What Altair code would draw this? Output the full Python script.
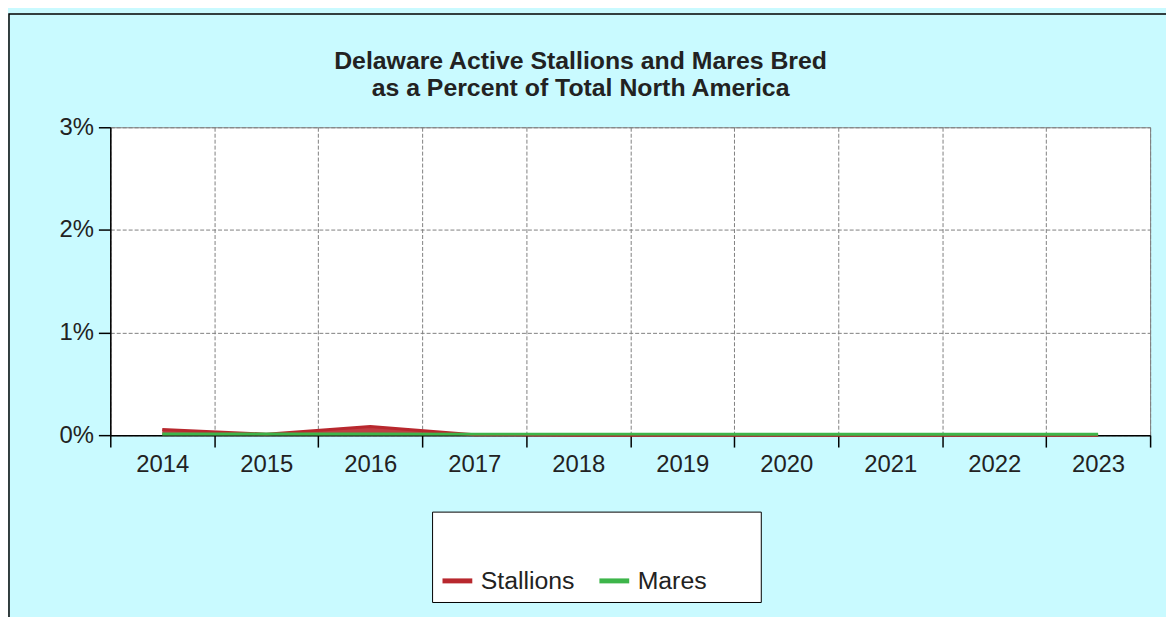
import altair as alt
import pandas as pd

years = ["2014", "2015", "2016", "2017", "2018", "2019", "2020", "2021", "2022", "2023"]
stallions = [0.055, 0.01, 0.085, 0.005, 0.0, 0.0, 0.0, 0.0, 0.0, 0.0]
mares = [0.012, 0.012, 0.012, 0.01, 0.01, 0.01, 0.008, 0.008, 0.008, 0.008]
y_ticks = [0, 1, 2, 3]
series_names = ["Stallions", "Mares"]
series_colors = ["#B8282E", "#3DB54A"]
title_lines = ["Delaware Active Stallions and Mares Bred", "as a Percent of Total North America"]

rows = []
for y, s, m in zip(years, stallions, mares):
    rows.append({"Year": y, "Series": "Stallions", "Value": s})
    rows.append({"Year": y, "Series": "Mares", "Value": m})
df = pd.DataFrame(rows)

W, H = 1047, 310
FONT = "Liberation Sans"

x_enc = alt.X(
    "Year:O",
    bandPosition=0.5,
    scale=alt.Scale(type="band", domain=years, paddingInner=0, paddingOuter=0),
    axis=alt.Axis(
        title=None, tickBand="extent", labelAngle=0, labelFontSize=24, labelFont=FONT,
        labelColor="#222222", labelPadding=6, tickSize=12, tickColor="#000000", tickWidth=1.5,
        domainColor="#000000", domainWidth=1.5, grid=True, gridColor="#808080",
        gridDash=[4, 2], gridWidth=1,
    ),
)
y_enc = alt.Y(
    "Value:Q",
    scale=alt.Scale(domain=[0, 3], nice=False, zero=True),
    axis=alt.Axis(
        title=None, values=y_ticks, labelExpr="datum.value + '%'", labelFontSize=24,
        labelFont=FONT, labelColor="#222222", labelPadding=5, tickSize=12,
        tickColor="#000000", tickWidth=1.5, domainColor="#000000", domainWidth=1.5,
        grid=True, gridColor="#808080", gridDash=[4, 2], gridWidth=1,
    ),
)
legend_spacer = "\u200b" + "\u00a0" * 29 + "\u200b"
color_enc = alt.Color(
    "Series:N",
    scale=alt.Scale(domain=series_names, range=series_colors),
    legend=alt.Legend(
        title=legend_spacer, titleFontSize=39, titleFontWeight="normal", titlePadding=5,
        titleLimit=400, titleFont=FONT, orient="none",
        legendX=324, legendY=387, direction="horizontal", symbolType="stroke",
        symbolSize=900, symbolStrokeWidth=5, labelFontSize=25, labelFont=FONT,
        labelColor="#222222", labelOffset=6, columnPadding=14, padding=8,
        fillColor="#FFFFFF", strokeColor="#000000", labelLimit=300,
    ),
)

base = alt.Chart(df)

area = base.transform_filter(alt.datum.Series == "Stallions").mark_area(
    color=series_colors[0], opacity=0.9
).encode(x=x_enc, y=y_enc)

line_s = base.transform_filter(alt.datum.Series == "Stallions").mark_line(
    strokeWidth=3
).encode(x=x_enc, y=y_enc, color=color_enc)

line_m = base.transform_filter(alt.datum.Series == "Mares").mark_line(
    strokeWidth=3
).encode(x=x_enc, y=y_enc, color=color_enc)

frame = alt.Chart(pd.DataFrame({"a": [0]})).mark_rect(
    filled=False, stroke="#000000", strokeWidth=1.5
).encode(
    x=alt.value(-102), x2=alt.value(W + 60), y=alt.value(-114), y2=alt.value(H + 220)
)

chart = alt.layer(frame, area, line_s, line_m).properties(
    width=W,
    height=H,
    title=alt.TitleParams(
        text=title_lines, anchor="middle", frame="group", dx=-50, offset=-88,
        fontSize=25, font=FONT, fontWeight="bold", color="#222222", lineHeight=27,
    ),
    autosize=alt.AutoSizeParams(type="none"),
    padding={"left": 103, "top": 118, "right": 16, "bottom": 181},
).configure(
    background="#C9FAFF"
).configure_view(
    fill="#FFFFFF", stroke="#808080", strokeWidth=1
)

chart.save("out.html", embed_options={"renderer": "svg", "actions": False})
